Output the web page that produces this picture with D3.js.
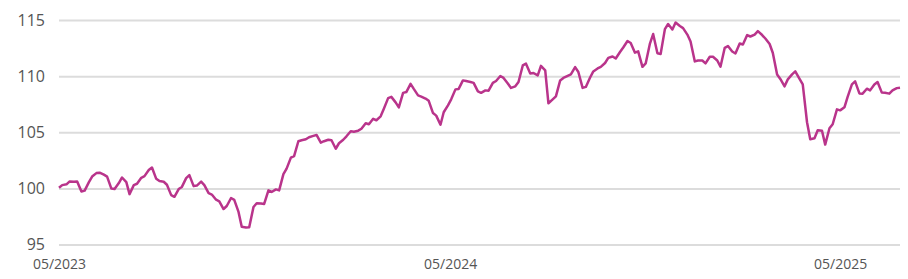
<!DOCTYPE html>
<html lang="en">
<head>
  <meta charset="UTF-8">
  <title>Index line chart</title>
  <script src="https://d3js.org/d3.v7.min.js"></script>
  <style>
    body {
      margin: 0;
      background: #fff;
      font-family: "Open Sans", Arial, sans-serif;
    }

    .grid line {
      stroke: #dcdcdc;
      stroke-width: 2;
    }

    .axis text {
      fill: #555;
    }

    .line {
      fill: none;
      stroke: #b9348b;
      stroke-width: 2.5;
      stroke-linejoin: round;
    }
  </style>
</head>
<body>
  <div id="chart"></div>

  <script>
    // Chart size
    const width = 908;
    const height = 279;
    const margin = { top: 20, right: 8, bottom: 34.5, left: 59 };

    // Dates (Mondays and Thursdays)
    const dates = [
      "2023-05-01","2023-05-04","2023-05-08","2023-05-11","2023-05-15","2023-05-18","2023-05-22","2023-05-25",
      "2023-05-29","2023-06-01","2023-06-05","2023-06-08","2023-06-12","2023-06-15","2023-06-19","2023-06-22",
      "2023-06-26","2023-06-29","2023-07-03","2023-07-06","2023-07-10","2023-07-13","2023-07-17","2023-07-20",
      "2023-07-24","2023-07-27","2023-07-31","2023-08-03","2023-08-07","2023-08-10","2023-08-14","2023-08-17",
      "2023-08-21","2023-08-24","2023-08-28","2023-08-31","2023-09-04","2023-09-07","2023-09-11","2023-09-14",
      "2023-09-18","2023-09-21","2023-09-25","2023-09-28","2023-10-02","2023-10-05","2023-10-09","2023-10-12",
      "2023-10-16","2023-10-19","2023-10-23","2023-10-26","2023-10-30","2023-11-02","2023-11-06","2023-11-09",
      "2023-11-13","2023-11-16","2023-11-20","2023-11-23","2023-11-27","2023-11-30","2023-12-04","2023-12-07",
      "2023-12-11","2023-12-14","2023-12-18","2023-12-21","2023-12-25","2023-12-28","2024-01-01","2024-01-04",
      "2024-01-08","2024-01-11","2024-01-15","2024-01-18","2024-01-22","2024-01-25","2024-01-29","2024-02-01",
      "2024-02-05","2024-02-08","2024-02-12","2024-02-15","2024-02-19","2024-02-22","2024-02-26","2024-02-29",
      "2024-03-04","2024-03-07","2024-03-11","2024-03-14","2024-03-18","2024-03-21","2024-03-25","2024-03-28",
      "2024-04-01","2024-04-04","2024-04-08","2024-04-11","2024-04-15","2024-04-18","2024-04-22","2024-04-25",
      "2024-04-29","2024-05-02","2024-05-06","2024-05-09","2024-05-13","2024-05-16","2024-05-20","2024-05-23",
      "2024-05-27","2024-05-30","2024-06-03","2024-06-06","2024-06-10","2024-06-13","2024-06-17","2024-06-20",
      "2024-06-24","2024-06-27","2024-07-01","2024-07-04","2024-07-08","2024-07-11","2024-07-15","2024-07-18",
      "2024-07-22","2024-07-25","2024-07-29","2024-08-01","2024-08-05","2024-08-08","2024-08-12","2024-08-15",
      "2024-08-19","2024-08-22","2024-08-26","2024-08-29","2024-09-02","2024-09-05","2024-09-09","2024-09-12",
      "2024-09-16","2024-09-19","2024-09-23","2024-09-26","2024-09-30","2024-10-03","2024-10-07","2024-10-10",
      "2024-10-14","2024-10-17","2024-10-21","2024-10-24","2024-10-28","2024-10-31","2024-11-04","2024-11-07",
      "2024-11-11","2024-11-14","2024-11-18","2024-11-21","2024-11-25","2024-11-28","2024-12-02","2024-12-05",
      "2024-12-09","2024-12-12","2024-12-16","2024-12-19","2024-12-23","2024-12-26","2024-12-30","2025-01-02",
      "2025-01-06","2025-01-09","2025-01-13","2025-01-16","2025-01-20","2025-01-23","2025-01-27","2025-01-30",
      "2025-02-03","2025-02-06","2025-02-10","2025-02-13","2025-02-17","2025-02-20","2025-02-24","2025-02-27",
      "2025-03-03","2025-03-06","2025-03-10","2025-03-13","2025-03-17","2025-03-20","2025-03-24","2025-03-27",
      "2025-03-31","2025-04-03","2025-04-07","2025-04-10","2025-04-14","2025-04-17","2025-04-21","2025-04-24",
      "2025-04-28","2025-05-01","2025-05-05","2025-05-08","2025-05-12","2025-05-15","2025-05-19","2025-05-22",
      "2025-05-26","2025-05-29","2025-06-02","2025-06-05","2025-06-09","2025-06-12","2025-06-16","2025-06-19",
      "2025-06-23","2025-06-26"
    ];

    // Index values
    const values = [
      100.05,100.29,100.36,100.62,100.59,100.62,99.72,99.80,
      100.56,101.05,101.36,101.40,101.22,101.05,99.98,99.94,
      100.47,100.97,100.56,99.49,100.29,100.41,100.94,101.09,
      101.63,101.86,100.85,100.65,100.59,100.32,99.40,99.25,
      99.94,100.13,100.91,101.18,100.20,100.25,100.60,100.29,
      99.58,99.45,98.99,98.85,98.16,98.43,99.14,98.98,
      97.90,96.59,96.52,96.54,98.34,98.67,98.65,98.61,
      99.82,99.68,99.91,99.82,101.27,101.76,102.74,102.87,
      104.20,104.29,104.38,104.56,104.68,104.76,104.07,104.20,
      104.33,104.29,103.53,104.02,104.33,104.64,105.09,105.04,
      105.14,105.31,105.80,105.71,106.20,106.07,106.42,107.09,
      108.04,108.15,107.66,107.22,108.51,108.58,109.31,108.86,
      108.29,108.18,108.00,107.80,106.71,106.48,105.67,106.78,
      107.40,107.93,108.82,108.86,109.62,109.56,109.48,109.40,
      108.64,108.51,108.73,108.70,109.40,109.57,110.01,109.84,
      109.35,108.95,109.09,109.48,110.95,111.11,110.24,110.28,
      110.06,110.91,110.51,107.58,107.93,108.20,109.62,109.84,
      110.02,110.15,110.80,110.37,108.95,109.04,109.88,110.42,
      110.68,110.82,111.17,111.62,111.75,111.57,112.15,112.55,
      113.13,112.95,112.09,112.21,110.83,111.13,112.90,113.75,
      112.04,111.97,114.19,114.64,114.15,114.77,114.46,114.28,
      113.70,113.08,111.31,111.39,111.39,111.13,111.73,111.72,
      111.39,110.84,112.52,112.68,112.19,112.02,112.90,112.82,
      113.66,113.53,113.70,114.01,113.66,113.35,112.86,112.06,
      110.15,109.75,109.09,109.71,110.15,110.42,109.75,109.26,
      105.89,104.38,104.47,105.18,105.13,103.90,105.36,105.71,
      107.04,106.95,107.22,108.15,109.26,109.53,108.46,108.44,
      108.88,108.73,109.26,109.48,108.53,108.51,108.44,108.73,
      108.93,108.97
    ];

    // Axis ticks
    const yTicks = [95, 100, 105, 110, 115];
    const xTicks = ["2023-05-01", "2024-05-01", "2025-05-01"];

    const parse = d3.timeParse("%Y-%m-%d");
    const data = dates.map((d, i) => ({ date: parse(d), value: values[i] }));

    // Scales
    const x = d3.scaleTime()
      .domain([parse(dates[0]), parse(dates[dates.length - 1])])
      .range([margin.left, width - margin.right]);

    const y = d3.scaleLinear()
      .domain([95, 115])
      .range([height - margin.bottom, margin.top]);

    const svg = d3.select("#chart")
      .append("svg")
      .attr("width", width)
      .attr("height", height);

    // Horizontal gridlines + y labels
    svg.append("g")
      .attr("class", "grid axis")
      .attr("transform", `translate(${margin.left},0)`)
      .call(d3.axisLeft(y)
        .tickValues(yTicks)
        .tickSize(-(width - margin.left - margin.right))
        .tickPadding(14)
        .tickFormat(d3.format("d")))
      .call(g => g.select(".domain").remove())
      .call(g => g.selectAll("text")
        .style("font-size", "16px")
        .style("font-family", "'Open Sans', Arial, sans-serif"));

    // X axis labels
    svg.append("g")
      .attr("class", "axis")
      .attr("transform", `translate(0,${height - margin.bottom})`)
      .call(d3.axisBottom(x)
        .tickValues(xTicks.map(parse))
        .tickSize(0)
        .tickPadding(14.5)
        .tickFormat(d3.timeFormat("%m/%Y")))
      .call(g => g.select(".domain").remove())
      .call(g => g.selectAll("text")
        .style("font-size", "14px")
        .style("font-family", "'Open Sans', Arial, sans-serif"));

    // Line
    const line = d3.line()
      .x(d => x(d.date))
      .y(d => y(d.value));

    svg.append("path")
      .datum(data)
      .attr("class", "line")
      .attr("d", line);
  </script>
</body>
</html>
